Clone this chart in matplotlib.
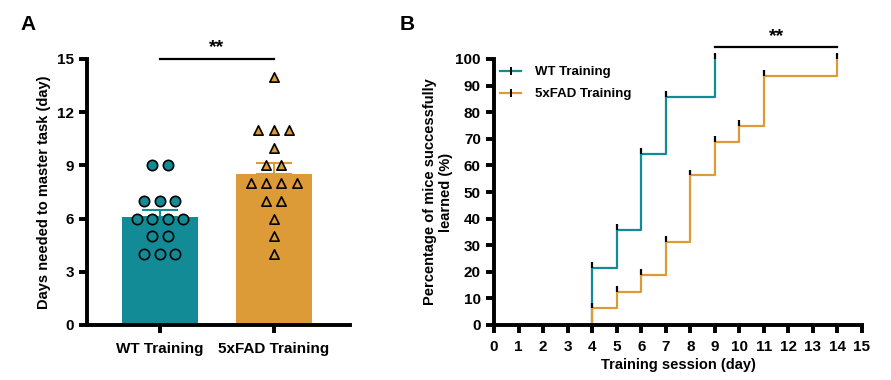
import numpy as np
import matplotlib
matplotlib.use("Agg")
import matplotlib.pyplot as plt

plt.rcParams['font.family'] = ['Liberation Sans', 'DejaVu Sans']
plt.rcParams['font.weight'] = 'bold'

groups = ["WT Training", "5xFAD Training"]
wt_days = [9, 9, 7, 7, 7, 6, 6, 6, 6, 5, 5, 4, 4, 4]
fad_days = [14, 11, 11, 11, 10, 9, 9, 8, 8, 8, 8, 7, 7, 6, 5, 4]

sessions_wt = [0, 4, 5, 6, 7, 9]
pct_wt = [0, 21.4, 35.7, 64.3, 85.7, 100]
sessions_fad = [0, 4, 5, 6, 7, 8, 9, 10, 11, 14]
pct_fad = [0, 6.25, 12.5, 18.75, 31.25, 56.25, 68.75, 75, 93.75, 100]

teal = "#138B96"
orange = "#DD9B37"

fig = plt.figure(figsize=(8.91, 3.8), dpi=100)

# ---------- Panel A ----------
axA = fig.add_axes([87/891, 1-325/380, (350-87)/891, (325-59)/380])
data = [wt_days, fad_days]
colors = [teal, orange]
markers = ['o', '^']
for i, d in enumerate(data):
    m = np.mean(d)
    sem = np.std(d, ddof=1)/np.sqrt(len(d))
    axA.bar(i, m, width=0.67, color=colors[i], zorder=1)
    axA.errorbar(i, m, yerr=[[0], [sem]], color=colors[i], capsize=13, elinewidth=1.5, capthick=1.5, zorder=2)
    vals, counts = np.unique(d, return_counts=True)
    for v, c in zip(vals, counts):
        xs = (np.arange(c) - (c-1)/2) * 0.135
        axA.scatter(i + xs, [v]*c, marker=markers[i], s=55 if i == 0 else 45,
                    facecolor=colors[i], edgecolor='black', linewidth=1.2, zorder=3)
axA.set_xlim(-0.64, 1.67)
axA.set_ylim(0, 15)
axA.set_yticks([0, 3, 6, 9, 12, 15])
axA.set_xticks([0, 1])
axA.set_xticklabels(groups)
axA.set_ylabel("Days needed to master task (day)", fontsize=10.5, fontweight='bold')
for s in ['top', 'right']:
    axA.spines[s].set_visible(False)
for s in ['left', 'bottom']:
    axA.spines[s].set_linewidth(2.8)
axA.tick_params(width=2.8, length=6, labelsize=11)
axA.tick_params(axis='x', pad=6)
axA.plot([0, 1], [15.0, 15.0], color='black', lw=1.6, clip_on=False)
axA.text(0.5, 15.15, "**", ha='center', va='bottom', fontsize=14, fontweight='bold')
fig.text(20/891, 1-25/380, "A", fontsize=15, fontweight='bold', va='center')

# ---------- Panel B ----------
axB = fig.add_axes([494/891, 1-325/380, (862-494)/891, (325-59)/380])
for xs, ys, c, lab in [(sessions_wt, pct_wt, teal, "WT Training"),
                       (sessions_fad, pct_fad, orange, "5xFAD Training")]:
    axB.step(xs, ys, where='post', color=c, lw=1.6, zorder=2)
    axB.vlines(xs[1:], ys[1:], np.array(ys[1:]) + 2.2, color='black', lw=1.6, zorder=3, clip_on=False)
    axB.plot([], [], color=c, lw=1.6, marker='|', markersize=6,
             markeredgecolor='black', markeredgewidth=1.4, label=lab)
axB.set_xlim(0, 15)
axB.set_ylim(0, 100)
axB.set_xticks(range(16))
axB.set_yticks(range(0, 101, 10))
axB.set_xlabel("Training session (day)", fontsize=10.5, fontweight='bold', labelpad=3)
axB.set_ylabel("Percentage of mice successfully\nlearned (%)", fontsize=10.5, fontweight='bold',
               labelpad=2, linespacing=1.1)
for s in ['top', 'right']:
    axB.spines[s].set_visible(False)
for s in ['left', 'bottom']:
    axB.spines[s].set_linewidth(2.8)
axB.tick_params(width=2.8, length=6, labelsize=11)
axB.tick_params(axis='x', pad=5)
axB.plot([9, 14], [104.5, 104.5], color='black', lw=1.6, clip_on=False)
axB.text(11.5, 105.3, "**", ha='center', va='bottom', fontsize=14, fontweight='bold')
leg = axB.legend(loc='upper left', bbox_to_anchor=(-0.015, 1.018), frameon=False, fontsize=9.5,
                 handlelength=1.6, labelspacing=0.75, handletextpad=1.0)
fig.text(400/891, 1-25/380, "B", fontsize=15, fontweight='bold', va='center')

fig.savefig("out.png", dpi=100)
